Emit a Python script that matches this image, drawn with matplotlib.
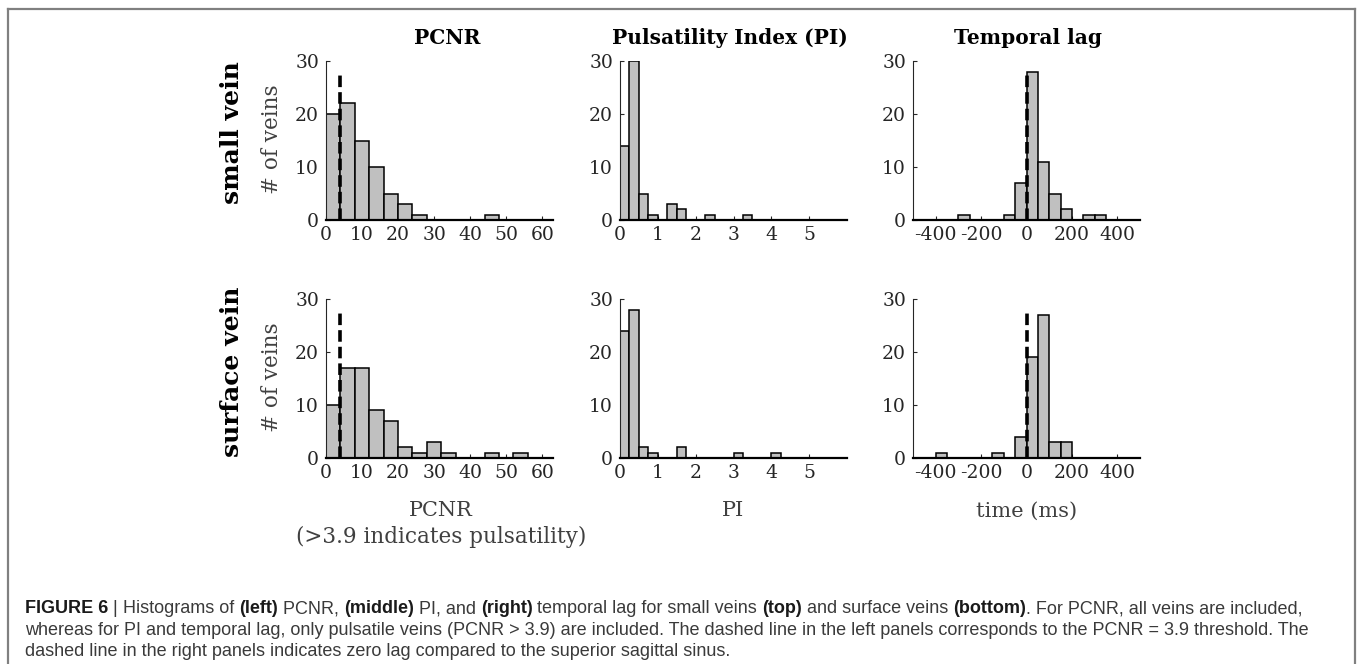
import numpy as np
import matplotlib
matplotlib.use("Agg")
import matplotlib.pyplot as plt
from matplotlib.lines import Line2D

plt.rcParams["axes.unicode_minus"] = False

# Histogram data (counts per bin)
pcnr_edges = np.arange(0, 60, 4)
pcnr_small = [20, 22, 15, 10, 5, 3, 1, 0, 0, 0, 0, 1, 0, 0]
pcnr_surface = [10, 17, 17, 9, 7, 2, 1, 3, 1, 0, 0, 1, 0, 1]

pi_edges = np.arange(0, 4.5, 0.25)
pi_small = [14, 30, 5, 1, 0, 3, 2, 0, 0, 1, 0, 0, 0, 1, 0, 0, 0]
pi_surface = [24, 28, 2, 1, 0, 0, 2, 0, 0, 0, 0, 0, 1, 0, 0, 0, 1]

lag_edges = np.arange(-500, 550, 50)
lag_small = [0, 0, 0, 0, 1, 0, 0, 0, 1, 7, 28, 11, 5, 2, 0, 1, 1, 0, 0, 0]
lag_surface = [0, 0, 1, 0, 0, 0, 0, 1, 0, 4, 19, 27, 3, 3, 0, 0, 0, 0, 0, 0]

pcnr_threshold = 3.9
col_titles = ["PCNR", "Pulsatility Index (PI)", "Temporal lag"]
row_titles = ["small vein", "surface vein"]

W, H = 1358, 664
fig = plt.figure(figsize=(W / 100, H / 100), dpi=100)

SERIF = ["DejaVu Serif"]
CAP_FONT = "Liberation Sans"
CAP_SIZE = 12.95

TXT = "#262626"
LAB = "#404040"
BAR = "#c0c0c0"


def px(x, y):
    return x / W, 1 - y / H


lefts = [326, 620, 913]
tops = [61, 299]
aw, ah = 227, 159

columns = [
    (pcnr_edges, [pcnr_small, pcnr_surface], (0, 63), [0, 10, 20, 30, 40, 50, 60]),
    (pi_edges, [pi_small, pi_surface], (0, 6), [0, 1, 2, 3, 4, 5]),
    (lag_edges, [lag_small, lag_surface], (-500, 500), [-400, -200, 0, 200, 400]),
]

for r in range(2):
    for c in range(3):
        edges, series, xlim, xticks = columns[c]
        x0, y0 = px(lefts[c], tops[r] + ah)
        ax = fig.add_axes([x0, y0, aw / W, ah / H])
        ax.hist(edges[:-1], bins=edges, weights=series[r], histtype="bar",
                facecolor=BAR, edgecolor="black", linewidth=1.1, zorder=2)
        if c == 0:
            ax.plot([pcnr_threshold] * 2, [0, 28], color="black", lw=2.6,
                    dashes=(3.2, 1.4), zorder=3)
        elif c == 2:
            ax.plot([0, 0], [0, 28], color="black", lw=2.6,
                    dashes=(3.2, 1.4), zorder=3)
        ax.set_xlim(*xlim)
        ax.set_ylim(0, 30)
        ax.set_xticks(xticks)
        ax.set_yticks([0, 10, 20, 30])
        for s in ["top", "right"]:
            ax.spines[s].set_visible(False)
        ax.spines["left"].set_color(TXT)
        ax.spines["left"].set_linewidth(0.8)
        ax.spines["bottom"].set_color("black")
        ax.spines["bottom"].set_linewidth(1.6)
        ax.tick_params(direction="in", length=3, width=0.8, colors=TXT,
                       labelsize=13.5)
        ax.tick_params(axis="x", pad=4)
        ax.tick_params(axis="y", pad=5)
        for lab in ax.get_xticklabels() + ax.get_yticklabels():
            lab.set_family(SERIF)
            lab.set_color(TXT)
        ax.patch.set_alpha(0)

# column titles
for (x, t) in zip([447, 730, 1028], col_titles):
    fig.text(*px(x, 38), t, ha="center", va="center", family=SERIF,
             weight="bold", size=14.5, color="black")

# row titles and y labels
for (y, t) in zip([133, 372], row_titles):
    fig.text(*px(232, y), t, ha="center", va="center", rotation=90,
             family=SERIF, weight="bold", size=18, color="black")
for y in [139, 377]:
    fig.text(*px(272, y), "# of veins", ha="center", va="center",
             rotation=90, family=SERIF, size=15.5, color=LAB)

# x labels
fig.text(*px(441, 511), "PCNR", ha="center", va="center", family=SERIF,
         size=15, color=LAB)
fig.text(*px(441, 537), "(>3.9 indicates pulsatility)", ha="center",
         va="center", family=SERIF, size=15.5, color=LAB)
fig.text(*px(733, 511), "PI", ha="center", va="center", family=SERIF,
         size=15, color=LAB)
fig.text(*px(1027, 511), "time (ms)", ha="center", va="center",
         family=SERIF, size=15, color=LAB)

# caption with mixed bold / regular pieces
cap = fig.add_axes([0, 0, 1, 1])
cap.set_axis_off()
cap.patch.set_alpha(0)

caption_lines = [
    [("FIGURE 6", True), (" | ", False), ("Histograms of ", False), ("(left)", True),
     (" PCNR, ", False), ("(middle)", True), (" PI, and ", False), ("(right)", True),
     (" temporal lag for small veins ", False), ("(top)", True),
     (" and surface veins ", False), ("(bottom)", True),
     (". For PCNR, all veins are included,", False)],
    [("whereas for PI and temporal lag, only pulsatile veins (PCNR > 3.9) are included. "
      "The dashed line in the left panels corresponds to the PCNR = 3.9 threshold. The", False)],
    [("dashed line in the right panels indicates zero lag compared to the superior sagittal sinus.", False)],
]
for (y, parts) in zip([608, 630, 651], caption_lines):
    prev = None
    for s, bold in parts:
        kw = dict(family=CAP_FONT, size=CAP_SIZE, va="baseline", ha="left",
                  weight="bold" if bold else "normal",
                  color="#1a1a1a" if bold else "#3a3a3a")
        if prev is None:
            prev = cap.text(25 / W, 1 - (y + 5) / H, s, transform=cap.transAxes, **kw)
        else:
            prev = cap.annotate(s, xy=(1, 1 - (y + 5) / H),
                                xycoords=(prev, "axes fraction"), **kw)

# grey frame around the figure
for xs, ys in [([8, 8], [9, 700]), ([8, 1355], [9, 9]), ([1355, 1355], [9, 700])]:
    fig.add_artist(Line2D([x / W for x in xs], [1 - y / H for y in ys],
                          transform=fig.transFigure, color="#808080", lw=1.6))

fig.savefig("out.png", dpi=100)
